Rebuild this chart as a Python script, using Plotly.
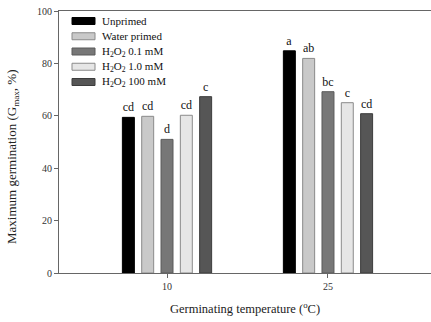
import plotly.graph_objects as go

# Germination temperatures (categories) and priming treatments
temperatures = ["10", "25"]
treatments = [
    "Unprimed",
    "Water primed",
    "H<sub>2</sub>O<sub>2</sub> 0.1 mM",
    "H<sub>2</sub>O<sub>2</sub> 1.0 mM",
    "H<sub>2</sub>O<sub>2</sub> 100 mM",
]
# Maximum germination (%) per treatment at 10 and 25 degC
gmax = [
    [59.4, 84.8],
    [59.8, 81.9],
    [51.0, 69.2],
    [60.2, 65.0],
    [67.3, 60.8],
]
# Significance letters per treatment at 10 and 25 degC
letters = [
    ["cd", "a"],
    ["cd", "ab"],
    ["d", "bc"],
    ["cd", "c"],
    ["c", "cd"],
]

fills = ["#000000", "#c9c9c9", "#777777", "#e6e6e6", "#565656"]
edges = ["#000000", "#8a8a8a", "#5a5a5a", "#8a8a8a", "#3c3c3c"]

W, H = 431, 322
L, R, T, B = 59, 0, 11, 49
pw, ph = W - L - R, H - T - B

serif = "Liberation Serif, Times New Roman, serif"
xpos = list(range(len(temperatures)))

fig = go.Figure()
for i, name in enumerate(treatments):
    fig.add_trace(go.Bar(
        x=xpos, y=gmax[i], name=name,
        marker=dict(color=fills[i], line=dict(color=edges[i], width=1)),
        text=letters[i], textposition="outside", constraintext="none",
        textfont=dict(family=serif, size=12, color="#111"),
        cliponaxis=False, showlegend=False,
    ))


def px_x(v):
    return (v - L) / pw


def px_y(v):
    return (H - B - v) / ph


# Legend drawn as swatches with labels in the upper-left corner
for i, name in enumerate(treatments):
    yc = 21 + 15.25 * i
    fig.add_shape(type="rect", xref="paper", yref="paper",
                  x0=px_x(72), x1=px_x(95), y0=px_y(yc + 3.5), y1=px_y(yc - 3.5),
                  fillcolor=fills[i], line=dict(color=edges[i], width=1))
    fig.add_annotation(xref="paper", yref="paper", x=px_x(100), y=px_y(yc),
                       text=name, showarrow=False, xanchor="left", yanchor="middle",
                       font=dict(family=serif, size=11, color="#111"))

# Y-axis title
fig.add_annotation(xref="paper", yref="paper", x=px_x(13), y=px_y(157),
                   text="Maximum germination (G<sub>max</sub>, %)", textangle=-90,
                   showarrow=False, xanchor="center", yanchor="middle",
                   font=dict(family=serif, size=13, color="#222"))

fig.update_layout(
    width=W, height=H,
    margin=dict(l=L, r=R, t=T, b=B),
    paper_bgcolor="white", plot_bgcolor="white",
    barmode="group", bargap=0.4, bargroupgap=0.38,
    font=dict(family=serif, color="#222"),
    xaxis=dict(
        range=[-0.671, 1.64], tickvals=xpos, ticktext=temperatures,
        showline=True, linecolor="#666", linewidth=1, mirror=True,
        ticks="outside", ticklen=4, tickcolor="#666",
        showgrid=False, zeroline=False,
        tickfont=dict(family=serif, size=10, color="#333"),
        title=dict(text="Germinating temperature (<sup>o</sup>C)",
                   font=dict(family=serif, size=12.5, color="#222"), standoff=13),
    ),
    yaxis=dict(
        range=[0, 100], tickvals=[0, 20, 40, 60, 80, 100],
        showline=True, linecolor="#666", linewidth=1,
        ticks="outside", ticklen=4, tickcolor="#666",
        showgrid=False, zeroline=False,
        tickfont=dict(family=serif, size=10, color="#333"),
    ),
)

fig.write_html("out.html")
